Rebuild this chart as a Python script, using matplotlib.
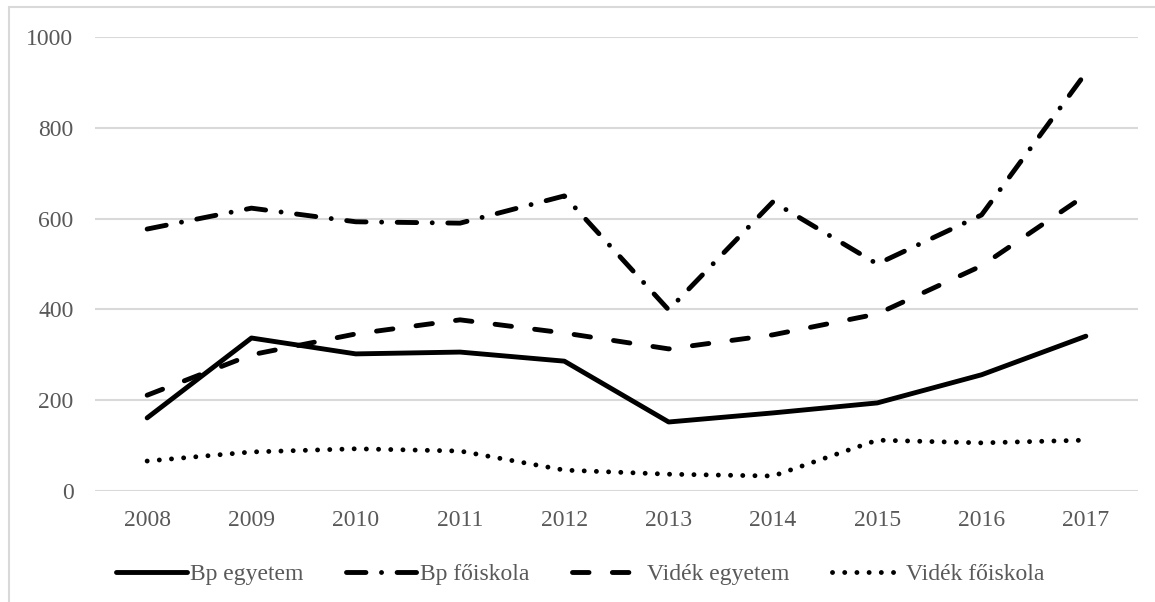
import matplotlib.pyplot as plt
from matplotlib.patches import Rectangle

years = ["2008", "2009", "2010", "2011", "2012", "2013", "2014", "2015", "2016", "2017"]

bp_egyetem = [161, 337, 302, 306, 286, 152, 172, 194, 256, 341]
bp_foiskola = [577, 623, 593, 590, 650, 399, 637, 500, 608, 921]
videk_egyetem = [211, 300, 346, 377, 348, 313, 344, 390, 496, 652]
videk_foiskola = [66, 86, 93, 88, 46, 37, 33, 112, 106, 112]

plt.rcParams['font.family'] = ['Liberation Serif', 'DejaVu Serif']

fig = plt.figure(figsize=(11.55, 6.02), dpi=100)
ax = fig.add_axes([95 / 1155, 1 - 491 / 602, (1138 - 95) / 1155, (491 - 37) / 602])

x = range(len(years))
lw = 3.5
ax.plot(x, bp_egyetem, color='black', lw=lw, solid_capstyle='round',
        solid_joinstyle='round', label='Bp egyetem')
ax.plot(x, bp_foiskola, color='black', lw=lw, linestyle=(0, (4.0, 3.2, 0.01, 3.2)),
        dash_capstyle='round', label='Bp főiskola')
ax.plot(x, videk_egyetem, color='black', lw=lw, linestyle=(0, (3.4, 4.8)),
        dash_capstyle='round', label='Vidék egyetem')
ax.plot(x, videk_foiskola, color='black', lw=lw, linestyle=(0, (0.01, 2.5)),
        dash_capstyle='round', label='Vidék főiskola')

ax.set_xlim(-0.5, len(years) - 0.5)
ax.set_ylim(0, 1000)
ax.set_yticks(range(0, 1001, 200))
ax.set_xticks(list(x))
ax.set_xticklabels(years)
ax.grid(axis='y', color='#d9d9d9', lw=1.5)
ax.set_axisbelow(True)
for s in ax.spines.values():
    s.set_visible(False)
ax.tick_params(length=0, labelsize=17, colors='#595959')
ax.tick_params(axis='x', pad=14)
ax.tick_params(axis='y', pad=15.5)

leg = fig.legend(loc='center', bbox_to_anchor=(580 / 1155, 1 - 574 / 602), ncol=4,
                 frameon=False, fontsize=17, handlelength=3.0, handletextpad=0.15,
                 columnspacing=1.8, labelcolor='#595959')

# chart area border
fig.patches.append(Rectangle((9 / 1155, -0.1), 1.2, 1 - 7 / 602 + 0.1,
                             transform=fig.transFigure, fill=False,
                             edgecolor='#d9d9d9', lw=1.5))

fig.savefig('out.png', dpi=100)
